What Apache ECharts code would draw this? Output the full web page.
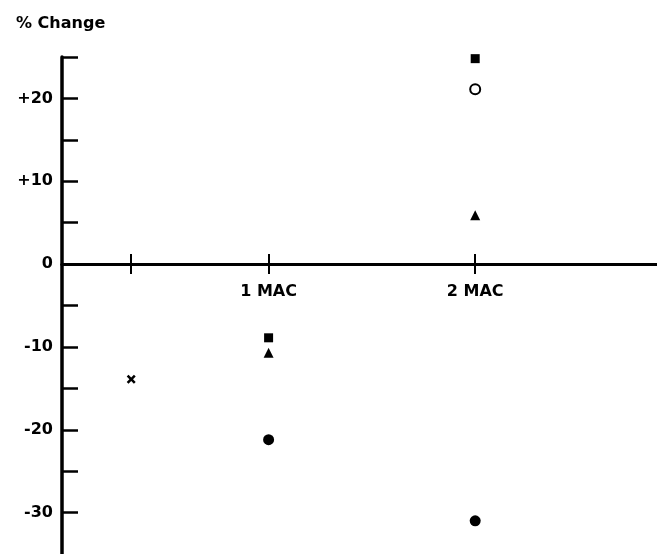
<!DOCTYPE html>
<html><head><meta charset="utf-8">
<script src="https://cdn.jsdelivr.net/npm/echarts@6/dist/echarts.min.js"></script>
<style>html,body{margin:0;padding:0;background:#fff}#c{width:657px;height:554px}</style>
</head><body><div id="c"></div>
<script>
const titleText = '% Change';
const doseTicks = [0.335, 1, 2];
const doseLabelValues = [1, 2];
const doseLabelSuffix = ' MAC';
const yTickValues = [-30, -25, -20, -15, -10, -5, 0, 5, 10, 15, 20, 25];
const yLabelValues = [-30, -20, -10, 0, 10, 20];
const controlDose = [0.335];
const controlChange = [-13.9];
const doses = [1, 2];
const squareChange = [-8.9, 24.8];
const triangleChange = [-10.7, 5.9];
const filledCircleChange = [-21.2, -31.0];
const openCircleDose = [2];
const openCircleChange = [21.1];

const zip = (xs, ys) => xs.map((x, i) => [x, ys[i]]);
const FONT = 'DejaVu Sans';
const crossPath = 'path://M0,2 L2,0 L5,3 L8,0 L10,2 L7,5 L10,8 L8,10 L5,7 L2,10 L0,8 L3,5 Z';

// layout
const W = 657, H = 554;
const GRID_LEFT = 62, GRID_TOP = 57, GRID_BOTTOM = 0;
const X_MIN = 0, X_MAX = 2.88, Y_MIN = -35, Y_MAX = 25;
const plotH = H - GRID_TOP - GRID_BOTTOM;
const zeroY = GRID_TOP + plotH * (Y_MAX - 0) / (Y_MAX - Y_MIN);

const chart = echarts.init(document.getElementById('c'), null, {renderer: 'canvas'});
const xCommon = {type: 'value', min: X_MIN, max: X_MAX, splitLine: {show: false}};
const yCommon = {type: 'value', min: Y_MIN, max: Y_MAX, splitLine: {show: false}};
const txt = {fontFamily: FONT, fontWeight: 'bold', fontSize: 16, color: '#000'};
const pt = {color: '#000', opacity: 1};
chart.setOption({
  animation: false,
  backgroundColor: '#fff',
  title: {text: titleText, left: 11, top: 11, textStyle: txt},
  grid: [
    {left: GRID_LEFT, right: 0, top: GRID_TOP, bottom: GRID_BOTTOM, outerBoundsMode: 'none'},
    {left: GRID_LEFT, right: 0, top: GRID_TOP, bottom: H - zeroY, outerBoundsMode: 'none'}
  ],
  xAxis: [
    Object.assign({}, xCommon, {
      gridIndex: 0, position: 'bottom',
      axisLine: {show: true, onZero: true, onZeroAxisIndex: 0, lineStyle: {color: '#000', width: 3}},
      axisTick: {show: true, inside: false, length: 10, customValues: doseTicks,
                 lineStyle: {color: '#000', width: 2}},
      axisLabel: {show: false}
    }),
    Object.assign({}, xCommon, {
      gridIndex: 0, position: 'top',
      axisLine: {show: true, onZero: true, onZeroAxisIndex: 1, lineStyle: {color: '#000', width: 3}},
      axisTick: {show: true, inside: false, length: 10, customValues: doseTicks,
                 lineStyle: {color: '#000', width: 2}},
      axisLabel: {show: false}
    }),
    Object.assign({}, xCommon, {
      gridIndex: 1, position: 'bottom',
      axisLine: {show: false, onZero: false},
      axisTick: {show: false},
      axisLabel: Object.assign({show: true, customValues: doseLabelValues, margin: 20,
                  formatter: v => v + doseLabelSuffix}, txt)
    })
  ],
  yAxis: [
    Object.assign({}, yCommon, {
      gridIndex: 0, position: 'left',
      axisLine: {show: true, onZero: false, lineStyle: {color: '#000', width: 3.5}},
      axisTick: {show: true, inside: true, length: 16, customValues: yTickValues,
                 lineStyle: {color: '#000', width: 2.5}},
      axisLabel: Object.assign({show: true, customValues: yLabelValues, margin: 9,
                  formatter: v => (v > 0 ? '+' + v : String(v))}, txt)
    }),
    Object.assign({}, yCommon, {
      gridIndex: 0, position: 'right',
      axisLine: {show: false, onZero: false},
      axisTick: {show: false}, axisLabel: {show: false}
    }),
    {type: 'value', gridIndex: 1, min: 0, max: Y_MAX, show: false}
  ],
  series: [
    {type: 'scatter', clip: false, symbol: crossPath, symbolSize: 9,
     itemStyle: pt, data: zip(controlDose, controlChange)},
    {type: 'scatter', clip: false, symbol: 'rect', symbolSize: 9,
     itemStyle: pt, data: zip(doses, squareChange)},
    {type: 'scatter', clip: false, symbol: 'triangle', symbolSize: 10,
     itemStyle: pt, data: zip(doses, triangleChange)},
    {type: 'scatter', clip: false, symbol: 'circle', symbolSize: 11,
     itemStyle: pt, data: zip(doses, filledCircleChange)},
    {type: 'scatter', clip: false, symbol: 'circle', symbolSize: 10,
     itemStyle: {color: '#fff', borderColor: '#000', borderWidth: 2, opacity: 1},
     data: zip(openCircleDose, openCircleChange)}
  ]
});
</script></body></html>
